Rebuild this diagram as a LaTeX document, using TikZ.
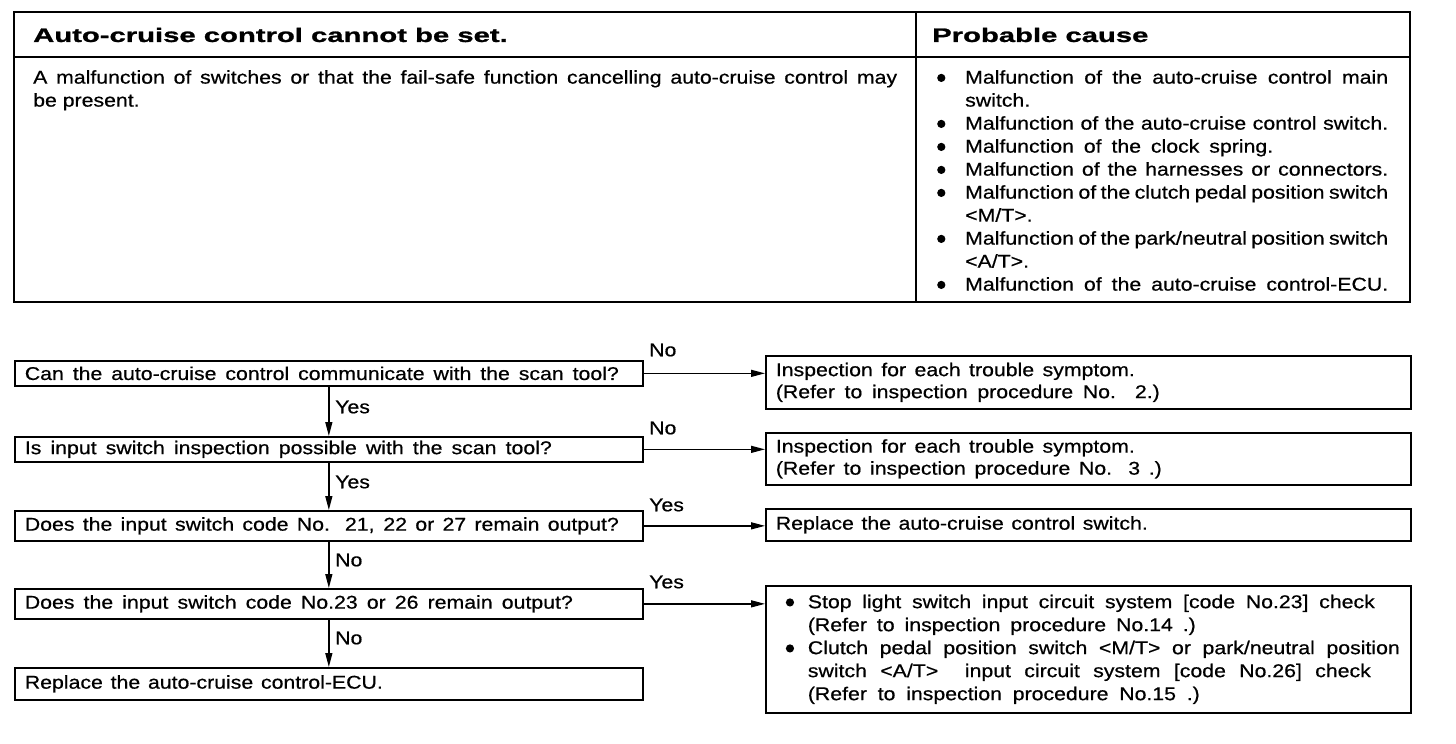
\documentclass[tikz,border=0pt]{standalone}
\usepackage{fontspec}
\setmainfont{Liberation Sans}[FakeStretch=1.15, FakeBold=0.6]
\newfontfamily\hdrfont{Liberation Sans}[FakeStretch=1.5, FakeBold=1.2]
\usetikzlibrary{arrows.meta}
\newcommand\bul{\raisebox{1.6pt}{\tikz\fill (0,0) circle[radius=4.1pt];}}
\newcommand\Bl{\makebox[29pt][l]{\hspace{1pt}\bul}}
\newcommand\Ind{\hspace*{29pt}}
\newcommand\Blb{\makebox[22pt][l]{\bul}}
\newcommand\Indb{\hspace*{22pt}}
\newcommand\J[2]{\makebox[#1][s]{\spaceskip=0pt\xspaceskip=0pt\relax #2}}
\newcommand\txtfont{\fontsize{18.5}{23}\selectfont}
\newcommand\rtxtfont{\fontsize{18.5}{22}\selectfont}
\newcommand\hdrtxt{\hdrfont\bfseries\fontsize{19.5}{24}\selectfont}
\begin{document}
\begin{tikzpicture}[x=1pt,y=-1pt,
  every node/.style={font=\txtfont, inner sep=0pt},
  hdr/.style={anchor=west, font=\hdrtxt},
  box/.style={draw, line width=1.7pt, rectangle, anchor=north west, align=left},
  qbox/.style={box, minimum width=628pt, inner xsep=10pt, text width=608pt},
  rbox/.style={box, minimum width=645pt, inner xsep=10pt, text width=625pt, font=\rtxtfont},
  lbl/.style={anchor=west},
  arr/.style={line width=1.3pt, -{Triangle[length=14pt,width=7pt]}},
]
\useasboundingbox (0,0) rectangle (1456,744);
% table
\draw[line width=2.4pt] (14,12) rectangle (1410,302);
\draw[line width=1.6pt] (14,57) -- (1410,57);
\draw[line width=1.6pt] (916,12) -- (916,302);
\node[hdr] (h1) at (33,35) {Auto-cruise control cannot be set.};
\node[hdr] (h2) at (932,35) {Probable cause};
\node[anchor=north west, align=left] (d1) at (33,70)
  {\J{864pt}{A malfunction of switches or that the fail-safe function cancelling auto-cruise control may}\\
   be present.};
\node[anchor=north west, align=left] (c1) at (936,70)
  {\Bl\J{423pt}{Malfunction of the auto-cruise control main}\\
   \Ind switch.\\
   \Bl\J{423pt}{Malfunction of the auto-cruise control switch.}\\
   \Bl\J{308pt}{Malfunction of the clock spring.}\\
   \Bl\J{423pt}{Malfunction of the harnesses or connectors.}\\
   \Bl\J{423pt}{Malfunction of the clutch pedal position switch}\\
   \Ind <M/T>.\\
   \Bl\J{423pt}{Malfunction of the park/neutral position switch}\\
   \Ind <A/T>.\\
   \Bl\J{423pt}{Malfunction of the auto-cruise control-ECU.}};
% flow
\node[qbox, minimum height=25pt] (q1) at (14,360) {\J{594pt}{Can the auto-cruise control communicate with the scan tool?}};
\node[qbox, minimum height=25pt] (q2) at (14,436) {\J{527pt}{Is input switch inspection possible with the scan tool?}};
\node[qbox, minimum height=30pt] (q3) at (14,510) {\J{594pt}{Does the input switch code No. 21, 22 or 27 remain output?}};
\node[qbox, minimum height=30pt] (q4) at (14,588) {\J{548pt}{Does the input switch code No.23 or 26 remain output?}};
\node[qbox, minimum height=32pt] (q5) at (14,667) {\J{358pt}{Replace the auto-cruise control-ECU.}};
\node[rbox, minimum height=53pt] (r1) at (765,355)
  {\J{359pt}{Inspection for each trouble symptom.}\\\J{384pt}{(Refer to inspection procedure No. 2.)}};
\node[rbox, minimum height=52pt] (r2) at (765,432)
  {\J{359pt}{Inspection for each trouble symptom.}\\\J{386pt}{(Refer to inspection procedure No. 3 .)}};
\node[rbox, minimum height=32pt] (r3) at (765,508) {\J{372pt}{Replace the auto-cruise control switch.}};
\node[box, minimum width=645pt, inner xsep=20pt, text width=605pt, minimum height=127pt] (r4) at (765,585)
  {\Blb\J{567pt}{Stop light switch input circuit system [code No.23] check}\\
   \Indb\J{388pt}{(Refer to inspection procedure No.14 .)}\\
   \Blb\J{592pt}{Clutch pedal position switch <M/T> or park/neutral position}\\
   \Indb\J{563pt}{switch <A/T>~ input circuit system [code No.26] check}\\
   \Indb\J{392pt}{(Refer to inspection procedure No.15 .)}};
\draw[arr] (q1.east) -- (q1.east -| r1.west);
\draw[arr] (q2.east) -- (q2.east -| r2.west);
\draw[arr] (q3.east) -- (q3.east -| r3.west);
\draw[arr] (q4.east) -- (q4.east -| r4.west);
\draw[arr] (q1.south) -- (q2.north);
\draw[arr] (q2.south) -- (q3.north);
\draw[arr] (q3.south) -- (q4.north);
\draw[arr] (q4.south) -- (q5.north);
\node[lbl] (n1) at (649,350) {No};
\node[lbl] (n2) at (649,428) {No};
\node[lbl] (n3) at (649,505) {Yes};
\node[lbl] (n4) at (649,582) {Yes};
\node[lbl] (v1) at (335,407) {Yes};
\node[lbl] (v2) at (335,482) {Yes};
\node[lbl] (v3) at (335,560) {No};
\node[lbl] (v4) at (335,638) {No};
\end{tikzpicture}
\end{document}
